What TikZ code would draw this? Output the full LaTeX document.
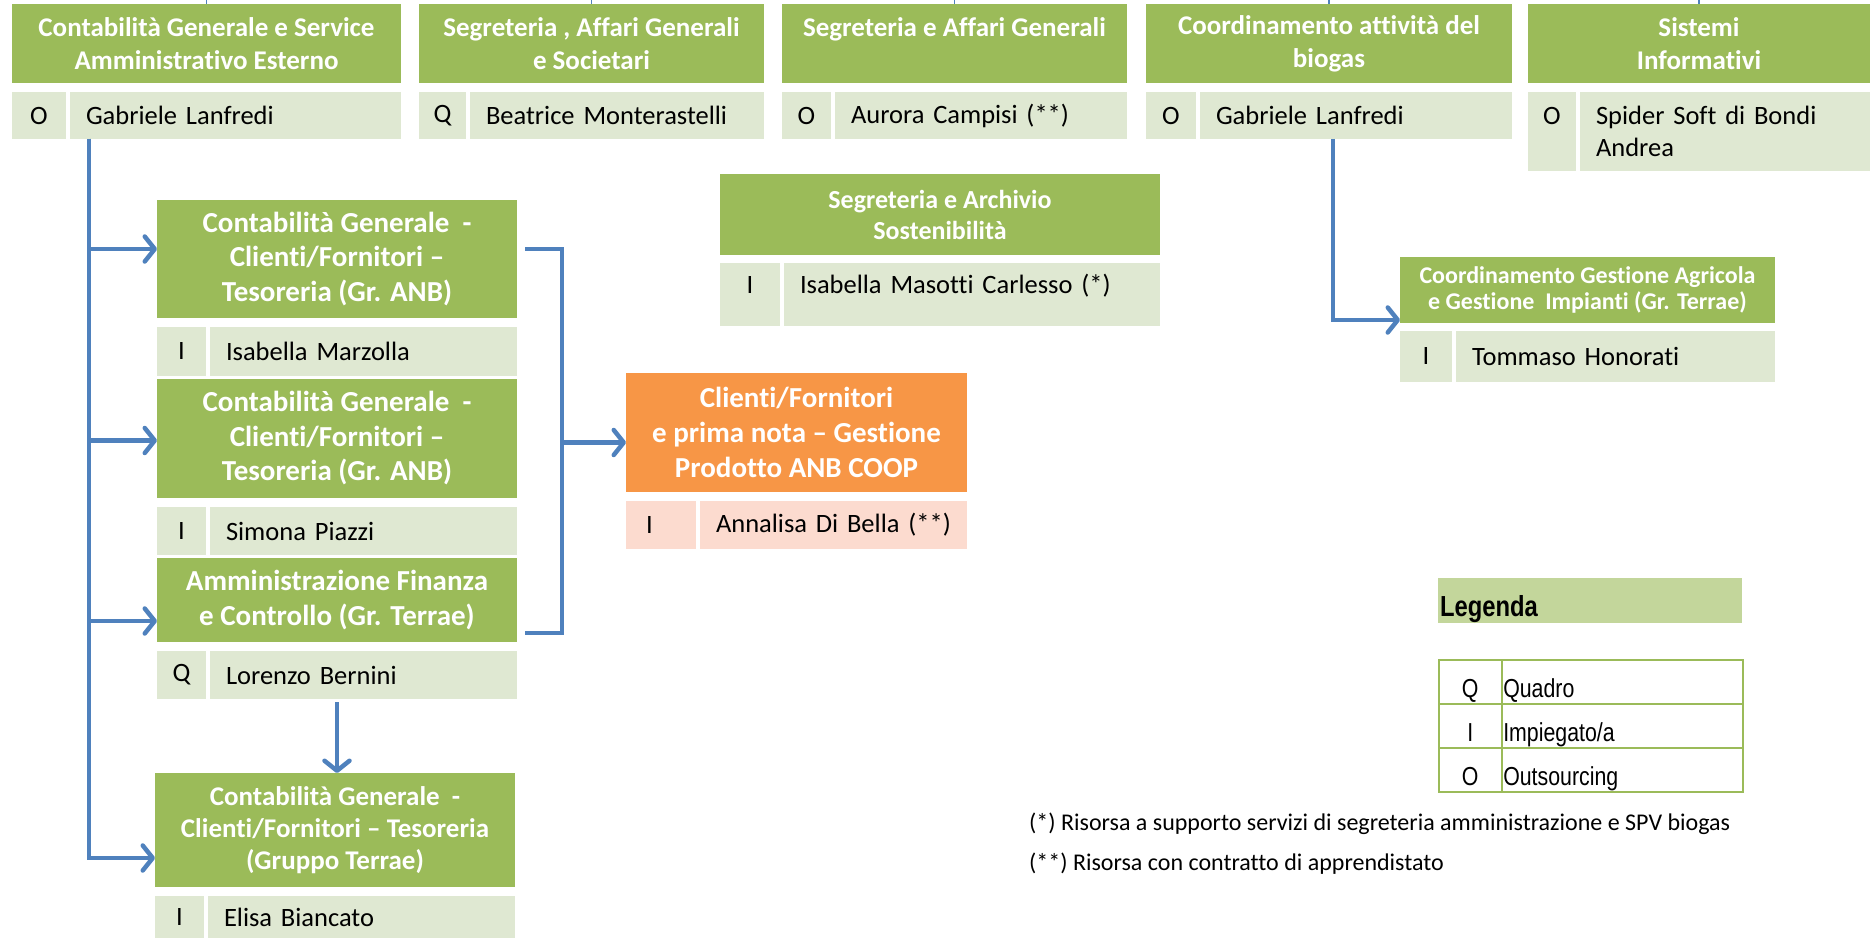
\documentclass[tikz,border=0pt]{standalone}
\usepackage{fontspec}
\setmainfont{Carlito}[Ligatures=NoCommon]
\newfontfamily\legfont[FakeStretch=0.82]{Liberation Sans}
\usetikzlibrary{arrows.meta}
\definecolor{hgreen}{HTML}{9BBB59}
\definecolor{rgreen}{HTML}{DFE8D2}
\definecolor{lgreen}{HTML}{C3D69B}
\definecolor{horange}{HTML}{F79646}
\definecolor{rpink}{HTML}{FCDBCF}
\definecolor{ablue}{HTML}{4F81BD}
\def\setfs#1#2{\fontsize{#1}{#2}\selectfont}
\tikzset{
	head/.style={fill=hgreen, text=white, align=center, inner sep=0pt, outer sep=0pt, anchor=north west},
	cell/.style={fill=rgreen, inner sep=0pt, outer sep=0pt, anchor=north west, align=center, font=\setfs{26.5}{32}},
	namecell/.style={cell, align=left, inner xsep=16pt},
	legcell/.style={draw=hgreen, line width=1.5pt, fill=white, inner sep=0pt, anchor=north west, font=\legfont\setfs{26}{30}, text height=38pt, text depth=6pt},
	flow/.style={draw=ablue, line width=4.5pt, -{Straight Barb[length=10pt, width=25pt, round]}},
	link/.style={draw=ablue, line width=4.5pt},
	stub/.style={draw=ablue, line width=1.5pt},
}

\begin{document}
\begin{tikzpicture}[x=1pt, y=1pt]
		%%%%% START %%%%%
		\useasboundingbox (0,0) rectangle (1870,938);
		
		\node[head, minimum width=389, minimum height=79, font=\setfs{27}{33}\bfseries] (servHead) at (12,934) {Contabilità Generale e Service\\Amministrativo Esterno};
		\node[cell, minimum width=54, minimum height=47] (servLet) at (12,846) {O};
		\node[namecell, text width=299pt, minimum height=47] (servName) at (70,846) {Gabriele Lanfredi};
		
		\node[head, minimum width=345, minimum height=79, font=\setfs{27}{33}\bfseries] (socHead) at (419,934) {Segreteria , Affari Generali\\e Societari};
		\node[cell, minimum width=47, minimum height=47] (socLet) at (419,846) {Q};
		\node[namecell, text width=262pt, minimum height=47] (socName) at (470,846) {Beatrice Monterastelli};
		
		\node[head, minimum width=345, minimum height=79, font=\setfs{27}{33}\bfseries] (affHead) at (782,934) {Segreteria e Affari Generali\\\mbox{}};
		\node[cell, minimum width=49, minimum height=47] (affLet) at (782,846) {O};
		\node[namecell, text width=260pt, minimum height=47] (affName) at (835,846) {Aurora Campisi (**)};
		
		\node[head, minimum width=366, minimum height=79, font=\setfs{27}{33}\bfseries] (bioHead) at (1146,934) {Coordinamento attività del\\biogas};
		\node[cell, minimum width=50, minimum height=47] (bioLet) at (1146,846) {O};
		\node[namecell, text width=280pt, minimum height=47] (bioName) at (1200,846) {Gabriele Lanfredi};
		
		\node[head, minimum width=342, minimum height=79, font=\setfs{27}{33}\bfseries] (infHead) at (1528,934) {Sistemi\\Informativi};
		\node[cell, minimum width=48, minimum height=79] (infLet) at (1528,846) {O\\\mbox{}};
		\node[namecell, text width=258pt, minimum height=79] (infName) at (1580,846) {Spider Soft di Bondi\\Andrea};
		
		\foreach \h in {servHead, socHead, affHead, bioHead, infHead}
			\draw[stub] (\h.north) -- ++(0,6);
		
		%%%%% CONTABILITA %%%%%
		
		\node[head, minimum width=360, minimum height=118, font=\setfs{29}{34.5}\bfseries] (anbAHead) at (157,738) {Contabilità Generale\ \ -\\Clienti/Fornitori –\\Tesoreria (Gr. ANB)};
		\node[cell, minimum width=49, minimum height=49] (marzLet) at (157,611) {I};
		\node[namecell, text width=275pt, minimum height=49] (marzName) at (210,611) {Isabella Marzolla};
		
		\node[head, minimum width=360, minimum height=119, font=\setfs{29}{34.5}\bfseries] (anbBHead) at (157,559) {Contabilità Generale\ \ -\\Clienti/Fornitori –\\Tesoreria (Gr. ANB)};
		\node[cell, minimum width=49, minimum height=48] (piazLet) at (157,431) {I};
		\node[namecell, text width=275pt, minimum height=48] (piazName) at (210,431) {Simona Piazzi};
		
		\node[head, minimum width=360, minimum height=84, font=\setfs{29}{35}\bfseries] (admHead) at (157,380) {Amministrazione Finanza\\e Controllo (Gr. Terrae)};
		\node[cell, minimum width=49, minimum height=48] (bernLet) at (157,287) {Q};
		\node[namecell, text width=275pt, minimum height=48] (bernName) at (210,287) {Lorenzo Bernini};
		
		\node[head, minimum width=360, minimum height=114, font=\setfs{27}{32}\bfseries] (terHead) at (155,165) {Contabilità Generale\ \ -\\Clienti/Fornitori – Tesoreria\\(Gruppo Terrae)};
		\node[cell, minimum width=49, minimum height=42] (biaLet) at (155,42) {I};
		\node[namecell, text width=275pt, minimum height=42] (biaName) at (208,42) {Elisa Biancato};
		
		%%%%% ALTRI UFFICI %%%%%
		
		\node[head, minimum width=341, minimum height=119, fill=horange, font=\setfs{29}{35}\bfseries] (prodHead) at (626,565) {Clienti/Fornitori\\e prima nota – Gestione\\Prodotto ANB COOP};
		\node[namecell, text width=30pt, inner xsep=20pt, minimum height=48, fill=rpink] (dibLet) at (626,437) {I};
		\node[namecell, text width=235pt, minimum height=48, fill=rpink] (dibName) at (700,437) {Annalisa Di Bella (**)};
		
		\node[head, minimum width=440, minimum height=81, font=\setfs{26}{31}\bfseries] (sosHead) at (720,764) {Segreteria e Archivio\\Sostenibilità};
		\node[cell, minimum width=60, minimum height=63, text height=20pt, text depth=22pt] (masLet) at (720,675) {I};
		\node[namecell, text width=344pt, minimum height=63, text height=20pt, text depth=22pt] (masName) at (784,675) {Isabella Masotti Carlesso (*)};
		
		\node[head, minimum width=375, minimum height=66, font=\setfs{24}{26}\bfseries] (agrHead) at (1400,681) {Coordinamento Gestione Agricola\\e Gestione\ \ Impianti (Gr. Terrae)};
		\node[cell, minimum width=52, minimum height=51] (honLet) at (1400,607) {I};
		\node[namecell, text width=287pt, minimum height=51] (honName) at (1456,607) {Tommaso Honorati};
		
		%%%%% FRECCE %%%%%
		
		\coordinate (trunkTop) at ([xshift=19pt]servName.south west);
		\draw[flow] (trunkTop) |- ([yshift=10pt]anbAHead.west);
		\draw[flow] (trunkTop) |- ([yshift=-2pt]anbBHead.west);
		\draw[flow] (trunkTop) |- ([yshift=-21pt]admHead.west);
		\draw[flow] (trunkTop) |- ([yshift=-28pt]terHead.west);
		
		\coordinate (brkTop) at ([xshift=45pt,yshift=10pt]anbAHead.east);
		\draw[link] ([xshift=8pt,yshift=10pt]anbAHead.east) -- (brkTop) |- ([xshift=8pt,yshift=-33pt]admHead.east);
		\coordinate (prodIn) at ([yshift=-10pt]prodHead.west);
		\draw[flow] (brkTop |- prodIn) -- (prodIn);
		
		\coordinate (cTail) at (admHead.south |- bernName.south);
		\draw[flow, shorten <=3pt] (cTail) -- (cTail |- terHead.north);
		
		\coordinate (bioTrunk) at ([xshift=133pt]bioName.south west);
		\coordinate (agrIn) at ([yshift=-30pt]agrHead.west);
		\draw[flow] (bioTrunk) |- (agrIn);
		
		%%%%% LEGENDA %%%%%
		
		\node[head, minimum width=304, minimum height=45, fill=lgreen, text=black, align=left, text width=300pt, inner xsep=2pt, font=\legfont\bfseries\setfs{29}{30}, text height=37pt, text depth=6pt] (legHead) at (1438,360) {Legenda};
		\node[legcell, minimum width=63, minimum height=44] (qLet) at (1438,279) {Q};
		\node[legcell, minimum width=241, minimum height=44, align=left, text width=238pt, inner xsep=1.5pt] (qTxt) at (1501,279) {Quadro};
		\node[legcell, minimum width=63, minimum height=44] (iLet) at (1438,235) {I};
		\node[legcell, minimum width=241, minimum height=44, align=left, text width=238pt, inner xsep=1.5pt] (iTxt) at (1501,235) {Impiegato/a};
		\node[legcell, minimum width=63, minimum height=43] (oLet) at (1438,191) {O};
		\node[legcell, minimum width=241, minimum height=43, align=left, text width=238pt, inner xsep=1.5pt] (oTxt) at (1501,191) {Outsourcing};
		
		\node[anchor=west, inner sep=0pt, font=\setfs{24}{28}] (footA) at (1029,114) {(*) Risorsa a supporto servizi di segreteria amministrazione e SPV biogas};
		\node[anchor=west, inner sep=0pt, font=\setfs{24}{28}] (footB) at (1029,74) {(**) Risorsa con contratto di apprendistato};
		
		%%%%% END %%%%%
	\end{tikzpicture}
\end{document}
